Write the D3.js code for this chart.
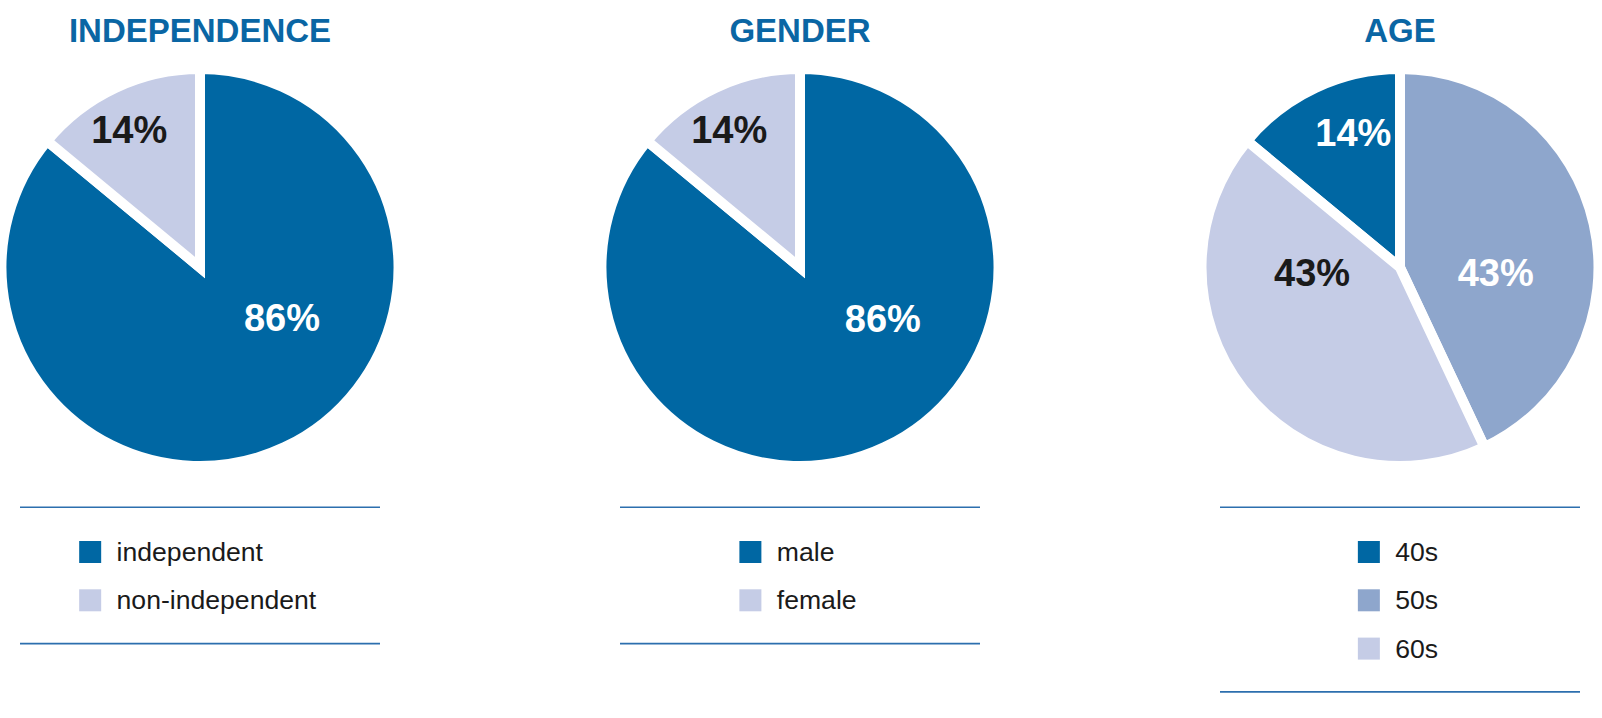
<!DOCTYPE html>
<html>
<head>
<meta charset="utf-8">
<script src="https://cdn.jsdelivr.net/npm/d3@7"></script>
<style>
  html, body { margin: 0; padding: 0; background: #ffffff; }
  svg { display: block; font-family: Arial, "Liberation Sans", Helvetica, sans-serif; }
</style>
</head>
<body>
<svg id="chart" width="1602" height="718"></svg>
<script>
// ---- data ----
const titles = ["INDEPENDENCE", "GENDER", "AGE"];
const independenceCategories = ["independent", "non-independent"];
const independenceValues = [86, 14];
const genderCategories = ["male", "female"];
const genderValues = [86, 14];
const ageCategories = ["40s", "50s", "60s"];
const ageValues = [14, 43, 43];

// ---- styling / layout ----
const dark = "#0067a3", mid = "#8ea6cc", light = "#c5cce6";
const titleColor = "#0a66a4";
const lineColor = "#2c6fae";
const textDark = "#1a1a1a";

const charts = [
  { title: titles[0], cats: independenceCategories, vals: independenceValues,
    colors: [dark, light], labelColors: ["#ffffff", textDark],
    startDeg: 0, labelPolar: [[121.4, 96], [-27.1, 155.5]] },
  { title: titles[1], cats: genderCategories, vals: genderValues,
    colors: [dark, light], labelColors: ["#ffffff", textDark],
    startDeg: 0, labelPolar: [[121.4, 97], [-27.1, 155.5]] },
  { title: titles[2], cats: ageCategories, vals: ageValues,
    colors: [dark, mid, light], labelColors: ["#ffffff", "#ffffff", textDark],
    startDeg: -50.4, labelPolar: [[-19.0, 143.3], [93, 95.9], [-93.3, 88.1]] }
];

const svg = d3.select("#chart");
const centerX = d3.scalePoint().domain(d3.range(charts.length)).range([200, 1400]);
const cy = 267.5;
const rVisible = 193.5;
const gapWidth = 10;
const rPath = rVisible + gapWidth / 2;

const arc = d3.arc().innerRadius(0).outerRadius(rPath);
const fmt = d3.format(".0%");

charts.forEach((c, i) => {
  const cx = centerX(i);
  const g = svg.append("g");
  const total = d3.sum(c.vals);
  const start = c.startDeg * Math.PI / 180;

  // title
  g.append("text")
    .attr("x", cx).attr("y", 42.3)
    .attr("text-anchor", "middle")
    .attr("font-size", 33).attr("font-weight", "bold")
    .attr("fill", titleColor)
    .text(c.title);

  // pie
  const pie = d3.pie().sort(null).value(d => d)
    .startAngle(start).endAngle(start + 2 * Math.PI);
  const arcs = pie(c.vals);
  const pg = g.append("g").attr("transform", `translate(${cx},${cy})`);
  pg.selectAll("path").data(arcs).join("path")
    .attr("d", arc)
    .attr("fill", (d, j) => c.colors[j])
    .attr("stroke", "#ffffff")
    .attr("stroke-width", gapWidth)
    .attr("stroke-linejoin", "miter");

  // labels
  const fs = 38;
  pg.selectAll("text.lbl").data(arcs).join("text")
    .attr("class", "lbl")
    .attr("x", (d, j) => c.labelPolar[j][1] * Math.sin(c.labelPolar[j][0] * Math.PI / 180))
    .attr("y", (d, j) => -c.labelPolar[j][1] * Math.cos(c.labelPolar[j][0] * Math.PI / 180) + fs * 0.358)
    .attr("text-anchor", "middle")
    .attr("font-size", fs).attr("font-weight", "bold")
    .attr("fill", (d, j) => c.labelColors[j])
    .text(d => fmt(d.value / total));

  // legend
  const lineTop = 507.3;
  const rowStep = 48.3;
  const sq = 22;
  const firstTop = lineTop + 33.7;
  const n = c.cats.length;
  const lineBottom = firstTop + (n - 1) * rowStep + sq + 32.3;
  [lineTop, lineBottom].forEach(y => {
    g.append("line")
      .attr("x1", cx - 180).attr("x2", cx + 180)
      .attr("y1", y).attr("y2", y)
      .attr("stroke", lineColor).attr("stroke-width", 1.6);
  });

  const lfs = 26.6;
  const lg = g.append("g");
  const items = lg.selectAll("g").data(c.cats).join("g")
    .attr("transform", (d, j) => `translate(0,${firstTop + j * rowStep})`);
  items.append("rect")
    .attr("width", sq).attr("height", sq)
    .attr("fill", (d, j) => c.colors[j]);
  items.append("text")
    .attr("x", sq + 15.4).attr("y", 20)
    .attr("font-size", lfs).attr("fill", textDark)
    .text(d => d);
  const bb = lg.node().getBBox();
  lg.attr("transform", `translate(${cx - bb.width / 2 - 2},0)`);
});
</script>
</body>
</html>
